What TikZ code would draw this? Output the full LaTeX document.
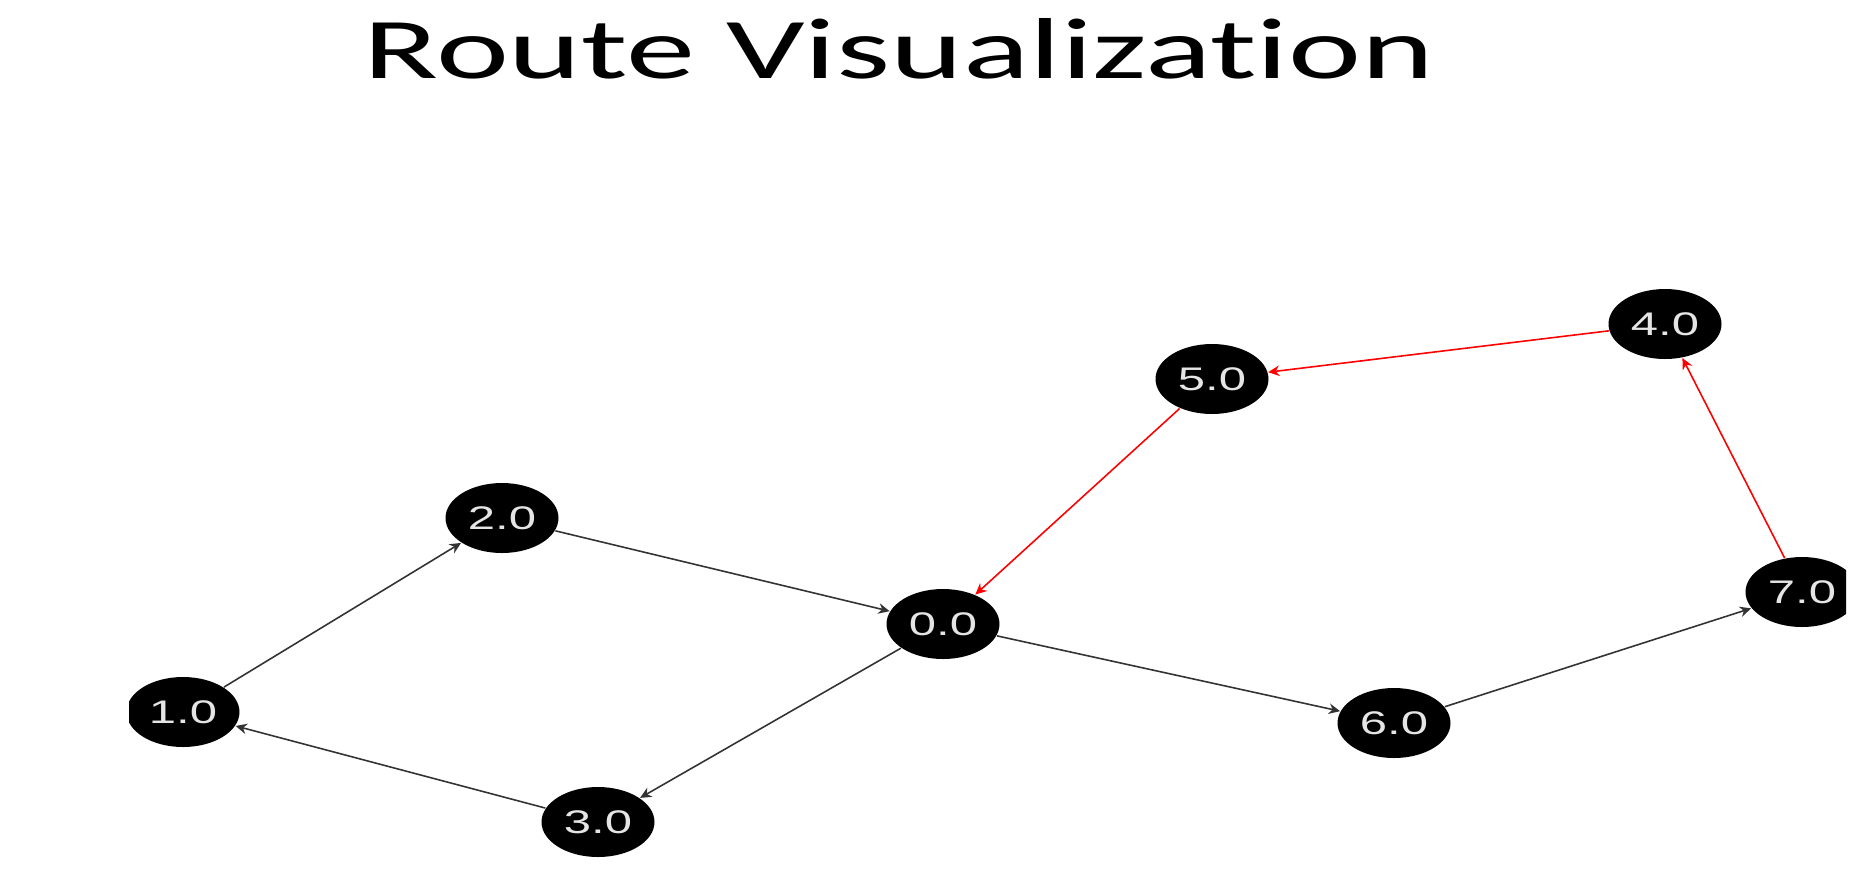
\documentclass[tikz,border=0pt]{standalone}
\usepackage{graphicx}
\usepackage{fontspec}
\setmainfont{Liberation Sans}
\newfontfamily\titlefont[Ligatures={NoCommon,NoRare,NoDiscretionary},Contextuals=NoAlternate]{Carlito}
\usetikzlibrary{shapes.geometric,arrows.meta}

\tikzset{
	stop/.style={ellipse, fill=black, inner sep=0pt, minimum width=11.3mm, minimum height=7mm,
		text=white!90!black, font=\fontsize{9.3}{10}\selectfont},
	leg/.style={draw=black!80, line width=0.45pt, -{Stealth[length=3.2pt,width=3pt]}},
	route/.style={leg, draw=red, -{Stealth[length=3.2pt,width=3pt,fill=red]}},
}
\newcommand{\stoplabel}[1]{\scalebox{1.5}[1]{#1}}

\begin{document}
\begin{tikzpicture}[x=0.1mm,y=-0.1mm]
				\useasboundingbox (0,0) rectangle (1854,870);
				
				\node[anchor=base] (title) at (899,78)
				{\titlefont\fontsize{24.6}{30}\selectfont\scalebox{1.6}[1]{Route Visualization}};
				
				\begin{scope}
					\clip (129,200) rectangle (1846,870);
					
					\foreach \n/\x/\y in {0/943/624, 1/183/712, 2/502/518, 3/598/822,
						4/1665/324, 5/1212/379, 6/1394/723, 7/1802/592}{
						\node[stop] (s\n) at (\x,\y) {\stoplabel{\n.0}};}
					
					\foreach \a/\b in {1/2, 2/0, 0/3, 3/1, 0/6, 6/7}{
						\draw[leg] (s\a) -- (s\b);}
					
					\foreach \a/\b in {7/4, 4/5, 5/0}{
						\draw[route] (s\a) -- (s\b);}
				\end{scope}
\end{tikzpicture}
\end{document}
